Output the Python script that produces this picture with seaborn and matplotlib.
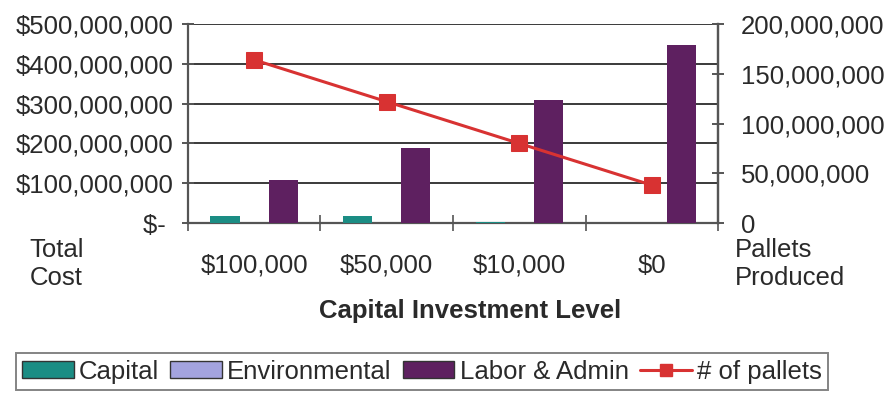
import numpy as np
import pandas as pd
import matplotlib
matplotlib.use("Agg")
import matplotlib.pyplot as plt
from matplotlib.ticker import FixedLocator, FuncFormatter
import seaborn as sns

# Cost breakdown and output per capital investment level
levels = ["$100,000", "$50,000", "$10,000", "$0"]
capital = [17e6, 17e6, 3e6, 0]
environmental = [0, 0, 0, 0]
labor_admin = [108e6, 188e6, 309e6, 447e6]
pallets = [164e6, 122e6, 80e6, 38e6]

series_names = ["Capital", "Environmental", "Labor & Admin"]
series_colors = ["#1b8d84", "#a3a3df", "#5e2060"]
line_color = "#d83232"

df = pd.DataFrame({
    "level": np.repeat(levels, 3),
    "series": series_names * len(levels),
    "cost": np.ravel(np.column_stack([capital, environmental, labor_admin])),
})
df_line = pd.DataFrame({"level": levels, "pallets": pallets})

sns.set_theme(style="white")
plt.rcParams["font.family"] = ["Liberation Sans", "DejaVu Sans"]
text_color = "#2a2a2a"
fs = 18.5

fig = plt.figure(figsize=(8.9, 3.94), dpi=100)
ax = fig.add_axes([0.211, 0.434, 0.596, 0.505])

sns.barplot(data=df, x="level", y="cost", hue="series", order=levels,
            hue_order=series_names, palette=series_colors, width=0.66,
            gap=0, saturation=1, edgecolor="none", legend=False, ax=ax,
            zorder=3)

ax.set_xlim(-0.5, len(levels) - 0.5)
ax.set_ylim(0, 500e6)
ax.yaxis.set_major_locator(FixedLocator(np.arange(0, 501e6, 100e6)))


def money(v, _):
    if v == 0:
        return "$- "
    return "${:,.0f}".format(v)


ax.yaxis.set_major_formatter(FuncFormatter(money))
ax.grid(axis="y", color="#3a3a3a", linewidth=1.4, zorder=0)
ax.set_axisbelow(True)

for side in ["left", "bottom", "right"]:
    ax.spines[side].set_visible(True)
    ax.spines[side].set_color("#555555")
    ax.spines[side].set_linewidth(1.6)
ax.spines["top"].set_visible(False)

ax.tick_params(axis="y", which="major", direction="inout", length=9,
               width=1.4, color="#555555", labelsize=fs, labelcolor=text_color,
               pad=6, left=True)
# category separators on the x axis
ax.set_xticks(np.arange(-0.5, len(levels)), minor=True)
ax.tick_params(axis="x", which="minor", direction="inout", length=12,
               width=1.2, color="#555555", bottom=True)
ax.tick_params(axis="x", which="major", length=0, labelsize=fs,
               labelcolor=text_color, pad=22)
ax.set_xlabel("")
ax.set_ylabel("")

ax2 = ax.twinx()
sns.lineplot(data=df_line, x="level", y="pallets", color=line_color,
             marker="s", markersize=12, markeredgecolor=line_color,
             linewidth=2.2, sort=False, ax=ax2, zorder=5)
ax2.set_ylim(0, 200e6)
ax2.yaxis.set_major_locator(FixedLocator(np.arange(0, 201e6, 50e6)))
ax2.yaxis.set_major_formatter(FuncFormatter(lambda v, _: "{:,.0f}".format(v)))
ax2.tick_params(axis="y", direction="inout", length=9, width=1.4,
                color="#555555", labelsize=fs, labelcolor=text_color,
                pad=12, right=True)
ax2.set_ylabel("")
ax2.set_xlabel("")
for side in ["left", "top", "bottom"]:
    ax2.spines[side].set_visible(False)
ax2.spines["right"].set_color("#555555")
ax2.spines["right"].set_linewidth(1.6)

fig.text(0.033, 0.33, "Total\nCost", fontsize=fs, color=text_color,
         ha="left", va="center", linespacing=1.2)
fig.text(0.826, 0.33, "Pallets\nProduced", fontsize=fs, color=text_color,
         ha="left", va="center", linespacing=1.2)
fig.text(0.528, 0.21, "Capital Investment Level", fontsize=fs,
         fontweight="bold", color=text_color, ha="center", va="center")

handles = [plt.Rectangle((0, 0), 1, 1, facecolor=c, edgecolor="#333333",
                         linewidth=1.0) for c in series_colors]
handles.append(plt.Line2D([0], [0], color=line_color, marker="s",
                          markersize=9, linewidth=2.2))
leg = fig.legend(handles, series_names + ["# of pallets"], loc="center",
                 bbox_to_anchor=(0.474, 0.057), ncol=4, fontsize=fs,
                 frameon=True, fancybox=False, edgecolor="#666666",
                 handlelength=2.0, handleheight=0.65, handletextpad=0.2,
                 columnspacing=0.45, borderpad=0.25, borderaxespad=0)
leg.get_frame().set_linewidth(1.4)
for t in leg.get_texts():
    t.set_color(text_color)

fig.savefig("out.png", dpi=100)
